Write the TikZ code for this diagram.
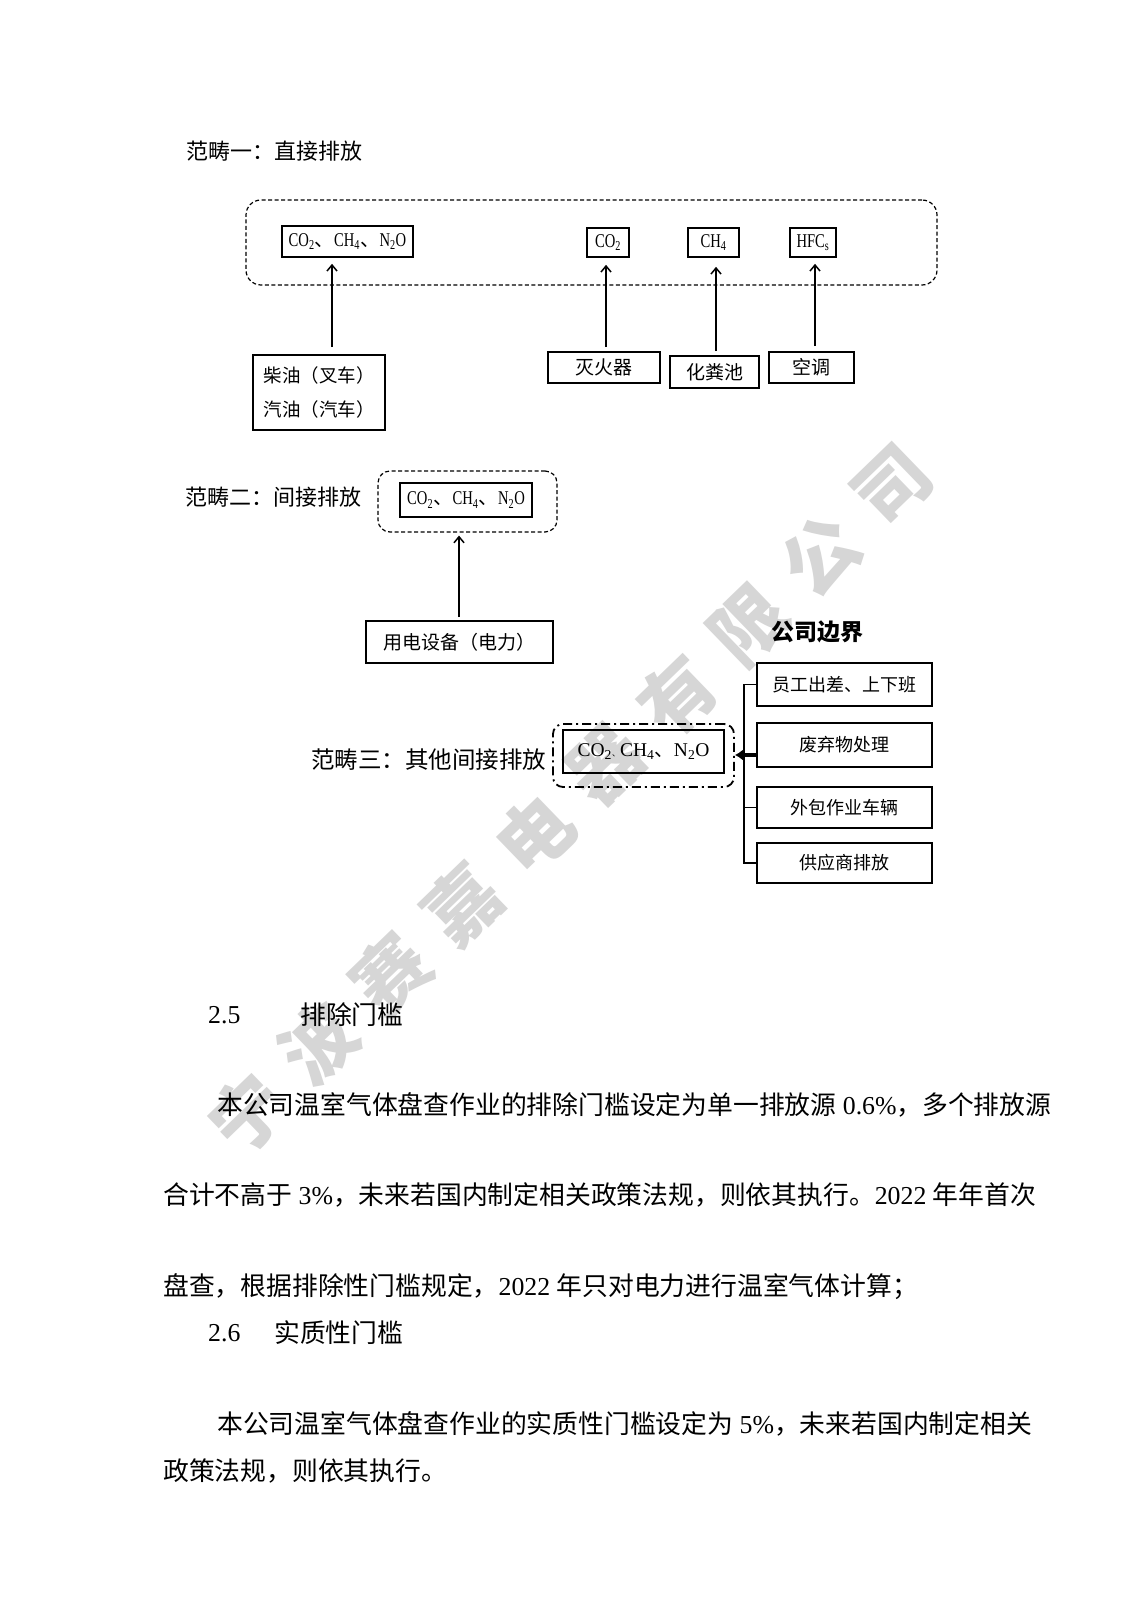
\documentclass[tikz,border=0pt]{standalone}
\usepackage{fontspec}
\setmainfont{Noto Sans CJK SC}
\newfontfamily\lat{Liberation Serif}
\newfontfamily\latc{Liberation Serif}[FakeStretch=0.75]
\usetikzlibrary{arrows.meta}
\begin{document}
\begin{tikzpicture}[x=1pt,y=-1pt,
  wm/.style={text=black!16, rotate=44, font=\fontsize{74}{74}\selectfont\bfseries, inner sep=0pt},
  title/.style={anchor=west, inner sep=0pt, font=\fontsize{22}{22}\selectfont},
  body/.style={anchor=west, inner sep=0pt, font=\fontsize{25.8}{26}\selectfont},
  box/.style={draw, line width=1.7pt, inner sep=0pt},
  gas/.style={box, font=\fontsize{19.5}{20}\selectfont},
  src/.style={box, font=\fontsize{19}{20}\selectfont},
  rbox/.style={box, line width=1.8pt, minimum width=175, font=\fontsize{18}{18}\selectfont},
  dframe/.style={draw, line width=1.2pt, dash pattern=on 4pt off 2.5pt, rounded corners=15pt, inner sep=0pt},
  ddframe/.style={draw, line width=1.8pt, dash pattern=on 9pt off 4pt on 2pt off 4pt, rounded corners=10pt, inner sep=0pt},
  arr/.style={line width=1.5pt, -{Straight Barb[length=6pt,width=10pt,line width=1.5pt]}},
  tarr/.style={line width=3.5pt, -{Latex[length=8pt,width=11pt]}},
  link/.style={line width=1.1pt}
]
\useasboundingbox[fill=white] (0,0) rectangle (1132,1600);

% watermark
\foreach \c [count=\i from 0] in {宁,波,赛,嘉,电,器,有,限,公,司}
  \node[wm] (wm\i) at ({247+71.8*\i},{1113-69.6*\i}) {\c};

% ---------- scope 1 ----------
\node[title] (t1) at (186,151) {范畴一：直接排放};
\node[dframe, minimum width=691, minimum height=85] (f1) at (591.5,242.5) {};
\node[gas, minimum width=131, minimum height=31] (g1) at (347.5,241.5)
  {{\latc CO\textsubscript{2}}、{\latc CH\textsubscript{4}}、{\latc N\textsubscript{2}O}};
\node[gas, minimum width=42, minimum height=29] (g2) at (608,242.5) {\latc CO\textsubscript{2}};
\node[gas, minimum width=51, minimum height=29] (g3) at (713.5,242.5) {\latc CH\textsubscript{4}};
\node[gas, minimum width=46, minimum height=29] (g4) at (813,242.5) {\latc HFC\textsubscript{s}};

\node[src, minimum width=132, minimum height=75, align=left, font=\fontsize{18.5}{34}\selectfont] (s1) at (319,392.5)
  {柴油（叉车）\\汽油（汽车）};
\node[src, minimum width=112, minimum height=31] (s2) at (604,367.5) {灭火器};
\node[src, minimum width=89, minimum height=32] (s3) at (714.5,372) {化粪池};
\node[src, minimum width=85, minimum height=31] (s4) at (811.5,367.5) {空调};

\coordinate (x1) at (332,0);
\coordinate (x2) at (606,0);
\coordinate (x3) at (716,0);
\coordinate (x4) at (815,0);
\draw[arr, shorten <=7pt, shorten >=6pt] (s1.north -| x1) -- (g1.south -| x1);
\draw[arr, shorten <=4pt, shorten >=7pt] (s2.north -| x2) -- (g2.south -| x2);
\draw[arr, shorten <=4pt, shorten >=9pt] (s3.north -| x3) -- (g3.south -| x3);
\draw[arr, shorten <=5pt, shorten >=6pt] (s4.north -| x4) -- (g4.south -| x4);

% ---------- scope 2 ----------
\node[title] (t2) at (185,497) {范畴二：间接排放};
\node[dframe, rounded corners=12pt, minimum width=179, minimum height=61] (f2) at (467.5,501.5) {};
\node[gas, minimum width=132, minimum height=34] (g5) at (466,500)
  {{\latc CO\textsubscript{2}}、{\latc CH\textsubscript{4}}、{\latc N\textsubscript{2}O}};
\node[src, minimum width=187, minimum height=42] (s5) at (459.5,642) {用电设备（电力）};
\coordinate (x5) at (459,0);
\draw[arr, shorten <=3pt, shorten >=3pt] (s5.north -| x5) -- (f2.south -| x5);

% ---------- scope 3 ----------
\node[title, font=\fontsize{23.5}{24}\selectfont] (t3) at (311,760) {范畴三：其他间接排放};
\node[ddframe, minimum width=181, minimum height=63] (f3) at (643.5,755.5) {};
\node[box, line width=1.8pt, minimum width=161, minimum height=43, font=\fontsize{19.5}{20}\selectfont] (g6) at (643.5,751.5)
  {{\lat CO\textsubscript{2}}{\fontsize{8}{8}\selectfont 、}{\lat CH\textsubscript{4}}、{\lat N\textsubscript{2}O}};

\node[inner sep=0pt, font=\fontsize{23}{23}\selectfont\bfseries] (cb) at (817.5,632) {公司边界};
\node[rbox, minimum height=43] (r1) at (844.5,684.5) {员工出差、上下班};
\node[rbox, minimum height=44] (r2) at (844.5,745) {废弃物处理};
\node[rbox, minimum height=41] (r3) at (844.5,807.5) {外包作业车辆};
\node[rbox, minimum height=40] (r4) at (844.5,863) {供应商排放};

\coordinate (bx) at (744,0);
\draw[link] (r1.west) -- (r1.west -| bx) -- (r4.west -| bx) -- (r4.west);
\draw[link] (r3.west -| bx) -- (r3.west);
\draw[tarr] ([yshift=-10pt]r2.west) -- ([yshift=-10pt]r2.west -| f3.east);

% ---------- text ----------
\node[body] (h25n) at (208,1015) {\lat 2.5};
\node[body] (h25t) at (300,1015) {排除门槛};
\node[body] (l1) at (217,1105) {本公司温室气体盘查作业的排除门槛设定为单一排放源{\lat\ 0.6\%}，多个排放源};
\node[body] (l2) at (163,1195) {合计不高于{\lat\ 3\%}，未来若国内制定相关政策法规，则依其执行。{\lat 2022 }年年首次};
\node[body] (l3) at (163,1287) {盘查，根据排除性门槛规定，{\lat 2022 }年只对电力进行温室气体计算；};
\node[body] (h26n) at (208,1333) {\lat 2.6};
\node[body] (h26t) at (274,1333) {实质性门槛};
\node[body] (l4) at (217,1424) {本公司温室气体盘查作业的实质性门槛设定为{\lat\ 5\%}，未来若国内制定相关};
\node[body] (l5) at (163,1471) {政策法规，则依其执行。};
\end{tikzpicture}
\end{document}
